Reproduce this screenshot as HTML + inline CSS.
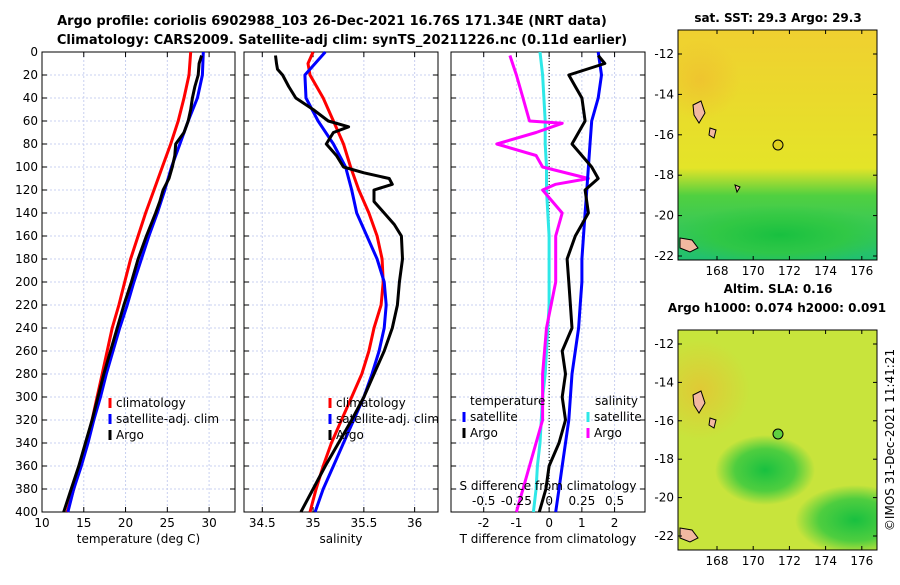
<!DOCTYPE html>
<html><head><meta charset="utf-8"><style>
body{margin:0;background:#fff;font-family:"Liberation Sans","DejaVu Sans",sans-serif}
svg text{font-family:"DejaVu Sans","Liberation Sans",sans-serif}
</style></head><body>
<svg id="c" width="900" height="580" viewBox="0 0 900 580" xmlns="http://www.w3.org/2000/svg">
<defs>
<radialGradient id="g1" cx="0.5" cy="0.5" r="0.5"><stop offset="0" stop-color="#18c040"/><stop offset="0.6" stop-color="#30c840" stop-opacity="0.8"/><stop offset="1" stop-color="#30c840" stop-opacity="0"/></radialGradient>
<radialGradient id="g2" cx="0.5" cy="0.5" r="0.5"><stop offset="0" stop-color="#f0b830"/><stop offset="1" stop-color="#f0b830" stop-opacity="0"/></radialGradient>
<linearGradient id="sst" x1="0" y1="0" x2="0" y2="1"><stop offset="0" stop-color="#f0d030"/><stop offset="0.6" stop-color="#e4e428"/><stop offset="0.72" stop-color="#50d040"/><stop offset="1" stop-color="#20c070"/></linearGradient>
<clipPath id="c1"><rect x="678" y="30" width="199" height="230"/></clipPath>
<clipPath id="c2"><rect x="678" y="330" width="199" height="220"/></clipPath>
</defs>
<text x="332" y="25" text-anchor="middle" font-size="13" font-weight="bold">Argo profile: coriolis 6902988_103 26-Dec-2021 16.76S 171.34E (NRT data)</text>
<text x="342" y="44" text-anchor="middle" font-size="13" font-weight="bold">Climatology: CARS2009. Satellite-adj clim: synTS_20211226.nc (0.11d earlier)</text>
<g id="plots"></g>
<g>
<text x="778" y="22" text-anchor="middle" font-size="12" font-weight="bold">sat. SST: 29.3 Argo: 29.3</text>
<g clip-path="url(#c1)">
<rect x="678" y="30" width="199" height="230" fill="url(#sst)"/>
<ellipse cx="700" cy="80" rx="40" ry="40" fill="url(#g2)" opacity="0.6"/>
<ellipse cx="780" cy="235" rx="110" ry="30" fill="url(#g1)"/>
<path d="M693 105 l8 -4 l4 12 l-6 10 l-5 -8z M710 128 l6 2 l-2 8 l-5 -3z M680 238 l12 2 l6 8 l-8 4 l-10 -4z M735 185 l5 2 l-3 5z" fill="#f2b8a0" stroke="#000"/>
<circle cx="778" cy="145" r="5" fill="#e0d020" stroke="#000"/>
</g>
<rect x="678" y="30" width="199" height="230" fill="none" stroke="#000"/>
</g>
<g>
<text x="778" y="293" text-anchor="middle" font-size="12" font-weight="bold">Altim. SLA: 0.16</text>
<text x="777" y="312" text-anchor="middle" font-size="12" font-weight="bold">Argo h1000: 0.074 h2000: 0.091</text>
<g clip-path="url(#c2)">
<rect x="678" y="330" width="199" height="220" fill="#c8e43c"/>
<ellipse cx="700" cy="390" rx="50" ry="50" fill="url(#g2)" opacity="0.6"/>
<ellipse cx="765" cy="470" rx="50" ry="35" fill="url(#g1)"/>
<ellipse cx="855" cy="520" rx="60" ry="35" fill="url(#g1)"/>
<path d="M693 395 l8 -4 l4 12 l-6 10 l-5 -8z M710 418 l6 2 l-2 8 l-5 -3z M680 528 l12 2 l6 8 l-8 4 l-10 -4z" fill="#f2b8a0" stroke="#000"/>
<circle cx="778" cy="434" r="5" fill="#60d040" stroke="#000"/>
</g>
<rect x="678" y="330" width="199" height="220" fill="none" stroke="#000"/>
</g>
<g id="mapaxes"></g>
<text x="0" y="0" transform="translate(894,440) rotate(-90)" text-anchor="middle" font-size="12">©IMOS 31-Dec-2021 11:41:21</text>
</svg>
<script>
const depths=[0,20,40,60,80,100,120,140,160,180,200,220,240,260,280,300,320,340,360,380,400];
const tClim=[27.8,27.6,27.0,26.3,25.4,24.4,23.4,22.4,21.5,20.6,19.9,19.2,18.4,17.8,17.2,16.6,16.0,15.3,14.6,13.8,13.0];
const tSat=[29.3,29.2,28.6,27.5,26.5,25.5,24.7,23.8,22.8,21.9,21.0,20.2,19.3,18.5,17.7,17.0,16.2,15.5,14.7,13.8,13.1];
const tArgoD=[3,10,20,30,40,50,60,70,80,90,100,110,120,130,140,160,180,200,220,240,260,280,300,320,340,360,380,400];
const tArgo=[29.1,28.8,28.7,28.3,28.0,27.8,27.5,27.0,26.0,25.9,25.6,25.2,24.5,24.1,23.6,22.5,21.5,20.7,19.8,19.0,18.2,17.4,16.7,16.0,15.2,14.4,13.5,12.6];
const sClimD=[0,10,20,40,60,80,100,120,140,160,180,200,220,240,260,280,300,320,340,360,380,400];
const sClim=[35.0,34.95,34.97,35.1,35.2,35.3,35.37,35.45,35.55,35.63,35.68,35.69,35.67,35.6,35.55,35.48,35.38,35.28,35.18,35.1,35.03,34.97];
const sSat=[35.12,34.92,34.93,35.05,35.2,35.32,35.38,35.43,35.53,35.63,35.7,35.72,35.7,35.65,35.58,35.5,35.4,35.3,35.2,35.1,35.02,34.93];
const sArgoD=[3,10,15,20,30,40,50,60,65,70,80,90,100,105,110,115,120,130,140,150,160,180,200,220,240,260,280,300,320,340,360,380,400];
const sArgo=[34.63,34.64,34.65,34.7,34.76,34.83,35.0,35.15,35.35,35.2,35.13,35.23,35.3,35.5,35.75,35.78,35.6,35.6,35.7,35.8,35.87,35.88,35.85,35.83,35.78,35.7,35.6,35.5,35.38,35.25,35.12,35.0,34.88];
const dTSat=[1.5,1.6,1.5,1.3,1.25,1.2,1.15,1.1,1.05,1.0,1.0,0.95,0.9,0.8,0.7,0.65,0.6,0.5,0.4,0.3,0.2];
const dTArgoD=[3,10,20,30,40,60,80,100,110,120,140,160,180,200,240,260,280,300,320,340,360,380,400];
const dTArgo=[1.5,1.7,0.6,0.8,1.0,1.1,0.7,1.3,1.5,1.1,1.2,0.8,0.55,0.6,0.7,0.4,0.5,0.4,0.5,0.3,0.0,-0.1,-0.3];
const dSSat=[-0.07,-0.05,-0.04,-0.03,-0.03,-0.02,-0.02,-0.01,0,0,0,0,-0.01,-0.02,-0.03,-0.05,-0.06,-0.07,-0.09,-0.1,-0.12];
const dSArgoD=[3,20,40,60,62,70,80,90,100,110,115,120,140,160,200,240,280,300,320,360,380,400];
const dSArgo=[-0.3,-0.25,-0.2,-0.15,0.1,-0.1,-0.4,-0.1,-0.05,0.3,0.05,-0.05,0.1,0.05,0.05,-0.02,-0.05,-0.05,-0.05,-0.15,-0.2,-0.25];
const depthTicks=[0,20,40,60,80,100,120,140,160,180,200,220,240,260,280,300,320,340,360,380,400];
const NS="http://www.w3.org/2000/svg";
const G=document.getElementById('plots');
function el(t,a,p){const e=document.createElementNS(NS,t);for(const k in a)e.setAttribute(k,a[k]);(p||G).appendChild(e);return e;}
const Y0=52,Y1=512;
const yD=d=>Y0+(d/400)*(Y1-Y0);
function panel(name,x0,x1,xmin,xmax,ticks,labels,xlabel,left){
  const g=el('g',{});
  
  
  const xs=v=>x0+(v-xmin)/(xmax-xmin)*(x1-x0);
  ticks.forEach((t,i)=>{const x=xs(t);
    el('line',{x1:x,x2:x,y1:Y0,y2:Y1,stroke:'#c8d0f0','stroke-dasharray':'2,2','stroke-width':1},g);
    el('line',{x1:x,x2:x,y1:Y1,y2:Y1-5,stroke:'#000'},g);el('line',{x1:x,x2:x,y1:Y0,y2:Y0+5,stroke:'#000'},g);
    if(labels){const t2=el('text',{x:x,y:Y1+15,'text-anchor':'middle','font-size':12},g);t2.textContent=labels[i];}
  });
  depthTicks.forEach(d=>{const y=yD(d);
    el('line',{x1:x0,x2:x1,y1:y,y2:y,stroke:'#c8d0f0','stroke-dasharray':'2,2'},g);
    el('line',{x1:x0,x2:x0+5,y1:y,y2:y,stroke:'#000'},g);el('line',{x1:x1,x2:x1-5,y1:y,y2:y,stroke:'#000'},g);
    if(left){const t=el('text',{x:x0-4,y:y+4,'text-anchor':'end','font-size':12},g);t.textContent=d;}
  });
  el('rect',{x:x0,y:Y0,width:x1-x0,height:Y1-Y0,fill:'none',stroke:'#000'},g);
  if(xlabel){const t=el('text',{x:(x0+x1)/2,y:Y1+31,'text-anchor':'middle','font-size':12},g);t.textContent=xlabel;}
  return {g,xs};
}
function line(p,ds,vs,col,name,scale){
  const pts=ds.map((d,i)=>p.xs(vs[i]*(scale||1)).toFixed(1)+','+yD(d).toFixed(1)).join(' ');
  const e=el('polyline',{points:pts,fill:'none',stroke:col,'stroke-width':3,'stroke-linejoin':'round'},p.g);
  
  
}
function legend(g,x,y,items){items.forEach((it,i)=>{const yy=y+i*16;
  el('line',{x1:x,x2:x,y1:yy-9,y2:yy+1,stroke:it[1],'stroke-width':3},g);
  const t=el('text',{x:x+6,y:yy,'font-size':12},g);t.textContent=it[0];});}
const p1=panel('temperature-panel',42,235,10,33.1,[10,15,20,25,30],['10','15','20','25','30'],'temperature (deg C)',true);
line(p1,depths,tClim,'#f00','temp-climatology-line');
line(p1,depths,tSat,'#00f','temp-satellite-line');
line(p1,tArgoD,tArgo,'#000','temp-argo-line');
legend(p1.g,110,407,[['climatology','#f00'],['satellite-adj. clim','#00f'],['Argo','#000']]);
const p2=panel('salinity-panel',244,438,34.32,36.23,[34.5,35,35.5,36],['34.5','35','35.5','36'],'salinity',false);
line(p2,sClimD,sClim,'#f00','sal-climatology-line');
line(p2,depths,sSat,'#00f','sal-satellite-line');
line(p2,sArgoD,sArgo,'#000','sal-argo-line');
legend(p2.g,330,407,[['climatology','#f00'],['satellite-adj. clim','#00f'],['Argo','#000']]);
const p3=panel('difference-panel',451,645,-3.0,2.93,[-2,-1,0,1,2],['-2','-1','0','1','2'],'T difference from climatology',false);
el('line',{x1:p3.xs(0),x2:p3.xs(0),y1:Y0,y2:Y1,stroke:'#000','stroke-dasharray':'1,2'},p3.g);
line(p3,depths,dSSat,'#2ee8e8','sdiff-satellite-line',4);
line(p3,dSArgoD,dSArgo,'#f0f','sdiff-argo-line',4);
line(p3,depths,dTSat,'#00f','tdiff-satellite-line');
line(p3,dTArgoD,dTArgo,'#000','tdiff-argo-line');
(()=>{const t=el('text',{x:470,y:405,'font-size':12},p3.g);t.textContent='temperature';
const t2=el('text',{x:595,y:405,'font-size':12},p3.g);t2.textContent='salinity';})();
legend(p3.g,464,421,[['satellite','#00f'],['Argo','#000']]);
legend(p3.g,588,421,[['satellite','#2ee8e8'],['Argo','#f0f']]);
(()=>{const t=el('text',{x:548,y:490,'text-anchor':'middle','font-size':12},p3.g);t.textContent='S difference from climatology';
[-0.5,-0.25,0,0.25,0.5].forEach(v=>{const tt=el('text',{x:p3.xs(v*4),y:505,'text-anchor':'middle','font-size':12},p3.g);tt.textContent=String(v);});})();
const MA=document.getElementById('mapaxes');
const lonTicks=[168,170,172,174,176], latTicks=[-12,-14,-16,-18,-20,-22];
function mapAxes(x0,x1,y0,y1,latTop,latPx){
  const lx=v=>717+(v-168)*18.1;
  lonTicks.forEach(v=>{const x=lx(v);el('line',{x1:x,x2:x,y1:y1,y2:y1-4,stroke:'#000'},MA);el('line',{x1:x,x2:x,y1:y0,y2:y0+4,stroke:'#000'},MA);
    const t=el('text',{x:x,y:y1+15,'text-anchor':'middle','font-size':12},MA);t.textContent=v;});
  latTicks.forEach(v=>{const y=latTop+(-12-v)*latPx;el('line',{x1:x0,x2:x0+4,y1:y,y2:y,stroke:'#000'},MA);el('line',{x1:x1,x2:x1-4,y1:y,y2:y,stroke:'#000'},MA);
    const t=el('text',{x:x0-4,y:y+4,'text-anchor':'end','font-size':12},MA);t.textContent=v;});
}
mapAxes(678,877,30,260,54,20.2);
mapAxes(678,877,330,550,344,19.2);
</script>
</body></html>
